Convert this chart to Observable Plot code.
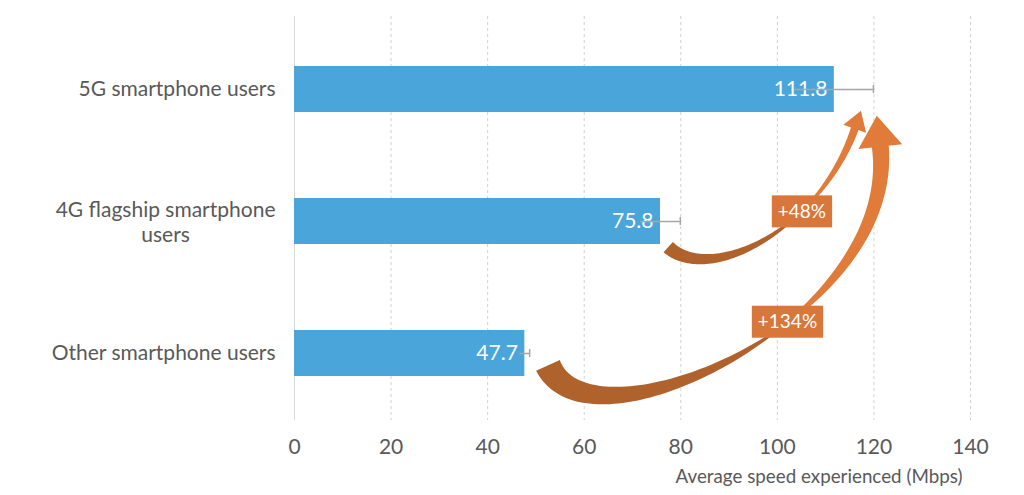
<!DOCTYPE html>
<html>
<head>
<meta charset="utf-8">
<script src="https://cdn.jsdelivr.net/npm/d3@7"></script>
<script src="https://cdn.jsdelivr.net/npm/@observablehq/plot@0.6"></script>
<style>
  html, body { margin: 0; padding: 0; background: #ffffff; }
  #chart { width: 1024px; height: 495px; }
</style>
</head>
<body>
<div id="chart"></div>
<script>
// ---- Data ----
const categories = ["5G smartphone users", "4G flagship smartphone users", "Other smartphone users"];
const yTickLabels = ["5G smartphone users", "4G flagship smartphone\nusers", "Other smartphone users"];
const speeds = [111.8, 75.8, 47.7];
const errors = [8.1, 4.1, 1.0];
const xTicks = [0, 20, 40, 60, 80, 100, 120, 140];
const xTitle = "Average speed experienced (Mbps)";

// Comparison arrows (from category index -> to category index) with their labels
const arrowFrom = [1, 2];
const arrowTo = [0, 0];
const arrowLabels = ["+48%", "+134%"];
// Arrow path control points: x in Mbps, y in category-index units (0 = first category)
const arrowPathX = [[77.5, 86.2, 108.9, 116.2], [52.6, 61.3, 125.5, 121.4]];
const arrowPathY = [[1.198, 1.484, 1.070, 0.294], [2.094, 2.802, 1.748, 0.429]];
const arrowLabelX = [105.2, 102.2];
const arrowLabelY = [0.927, 1.763];

// ---- Build table ----
const rows = categories.map((c, i) => ({cat: c, label: yTickLabels[i], speed: speeds[i], err: errors[i]}));

const measureCtx = document.createElement("canvas").getContext("2d");
function textWidth(s, font) { measureCtx.font = font; return measureCtx.measureText(s).width; }
const multiRows = rows.filter(r => r.label.includes("\n"));
const singleRows = rows.filter(r => !r.label.includes("\n"));
const LABEL_FS = 21;
const multiW = d3.max(multiRows.flatMap(r => r.label.split("\n")), s => textWidth(s, LABEL_FS + "px Lato")) || 0;

const SVGNS = "http://www.w3.org/2000/svg";
function el(name, attrs) {
  const e = document.createElementNS(SVGNS, name);
  for (const k in attrs) e.setAttribute(k, attrs[k]);
  return e;
}

// Custom mark: curved "ribbon" arrows with labels
function arrowsMark(index, scales) {
  const sx = scales.x, sy = scales.y;
  const bw = typeof sy.bandwidth === "function" ? sy.bandwidth() : 0;
  const y0 = sy(categories[0]) + bw / 2;
  const step = sy(categories[1]) - sy(categories[0]);
  const Y = v => y0 + v * step;
  const g = el("g", {});
  const styles = [
    {w0: 14, w1: 8, tm: 0.68, hw: 24, hl: 18},
    {w0: 26, w1: 17, tm: 0.60, hw: 44, hl: 30}
  ];
  arrowFrom.forEach((from, i) => {
    const P = arrowPathX[i].map((x, k) => [sx(x), Y(arrowPathY[i][k])]);
    const s = styles[i];
    const B = t => {
      const a = (1 - t) ** 3, b = 3 * (1 - t) ** 2 * t, c = 3 * (1 - t) * t * t, d = t ** 3;
      return [a * P[0][0] + b * P[1][0] + c * P[2][0] + d * P[3][0],
              a * P[0][1] + b * P[1][1] + c * P[2][1] + d * P[3][1]];
    };
    const D = t => {
      const a = 3 * (1 - t) ** 2, b = 6 * (1 - t) * t, c = 3 * t * t;
      const dx = a * (P[1][0] - P[0][0]) + b * (P[2][0] - P[1][0]) + c * (P[3][0] - P[2][0]);
      const dy = a * (P[1][1] - P[0][1]) + b * (P[2][1] - P[1][1]) + c * (P[3][1] - P[2][1]);
      const L = Math.hypot(dx, dy) || 1;
      return [dx / L, dy / L];
    };
    const wMin = 1;
    const W = t => t < s.tm
      ? wMin + (s.w0 - wMin) * Math.pow(1 - t / s.tm, 0.9)
      : wMin + (s.w1 - wMin) * Math.pow((t - s.tm) / (1 - s.tm), 0.7);
    const band = (ta, tb) => {
      const N = 60, L = [], R = [];
      for (let k = 0; k <= N; k++) {
        const t = ta + (tb - ta) * k / N;
        const p = B(t), u = D(t), w = W(t) / 2;
        const n = [-u[1], u[0]];
        L.push([p[0] + n[0] * w, p[1] + n[1] * w]);
        R.push([p[0] - n[0] * w, p[1] - n[1] * w]);
      }
      const pts = L.concat(R.reverse());
      return "M" + pts.map(q => q[0].toFixed(2) + "," + q[1].toFixed(2)).join("L") + "Z";
    };
    g.appendChild(el("path", {d: band(0, s.tm + 0.01), fill: "#b0622c"}));
    g.appendChild(el("path", {d: band(s.tm, 1), fill: "#e07b39"}));
    // arrowhead
    const p3 = B(1), u3 = D(1), n3 = [-u3[1], u3[0]];
    const head = [
      [p3[0] + n3[0] * s.hw / 2 - u3[0] * 1, p3[1] + n3[1] * s.hw / 2 - u3[1] * 1],
      [p3[0] + u3[0] * s.hl, p3[1] + u3[1] * s.hl],
      [p3[0] - n3[0] * s.hw / 2 - u3[0] * 1, p3[1] - n3[1] * s.hw / 2 - u3[1] * 1]
    ];
    g.appendChild(el("path", {d: "M" + head.map(q => q.join(",")).join("L") + "Z", fill: "#e07b39"}));
    // label box
    const cx = sx(arrowLabelX[i]), cy = Y(arrowLabelY[i]);
    const tw = textWidth(arrowLabels[i], "19px Lato");
    const bwid = tw + 12, bh = 32;
    g.appendChild(el("rect", {x: cx - bwid / 2, y: cy - bh / 2, width: bwid, height: bh, fill: "#d9773a"}));
    const t = el("text", {x: cx, y: cy, dy: "0.35em", "text-anchor": "middle", fill: "#ffffff",
      "font-size": 19, "font-family": "Lato"});
    t.textContent = arrowLabels[i];
    g.appendChild(t);
  });
  return g;
}

const chart = Plot.plot({
  width: 1024,
  height: 495,
  marginLeft: 294,
  marginRight: 54,
  marginTop: 16,
  marginBottom: 75,
  style: {fontFamily: "Lato", color: "#595959", background: "#ffffff", overflow: "visible"},
  x: {domain: [0, 140]},
  y: {type: "band", domain: categories, paddingInner: 0.65, paddingOuter: 0.3465, align: 0.533, axis: null},
  marks: [
    Plot.gridX({ticks: xTicks.filter(t => t > 0), stroke: "#d2d2d2", strokeOpacity: 1, strokeDasharray: "3,3"}),
    Plot.ruleX([0], {stroke: "#d9d9d9"}),
    Plot.barX(rows, {x: "speed", y: "cat", fill: "#4aa6da"}),
    Plot.text(rows, {x: "speed", y: "cat", text: d => d.speed.toFixed(1), textAnchor: "end", dx: -7,
      fill: "#ffffff", fontSize: 21}),
    Plot.ruleY(rows, {y: "cat", x1: d => d.speed - d.err, x2: d => d.speed + d.err, stroke: "#a6a6a6", strokeWidth: 1.5}),
    Plot.tickX(rows, {x: d => d.speed + d.err, y: "cat", stroke: "#a6a6a6", strokeWidth: 1.5, insetTop: 19, insetBottom: 19}),
    Plot.text(singleRows, {x: () => 0, y: "cat", text: "label", textAnchor: "end", dx: -19,
      fontSize: LABEL_FS, fill: "#595959"}),
    Plot.text(multiRows, {x: () => 0, y: "cat", text: "label", textAnchor: "middle", dx: -19 - multiW / 2,
      lineHeight: 1.2, fontSize: LABEL_FS, fill: "#595959"}),
    Plot.axisX({ticks: xTicks, tickSize: 0, tickPadding: 19, fontSize: 21, label: null, fill: "#595959"}),
    Plot.text([xTitle], {frameAnchor: "bottom-right", textAnchor: "end", lineAnchor: "top", dx: -8, dy: 49,
      fontSize: 18.8, fill: "#595959"}),
    arrowsMark
  ]
});
document.getElementById("chart").appendChild(chart);
</script>
</body>
</html>
